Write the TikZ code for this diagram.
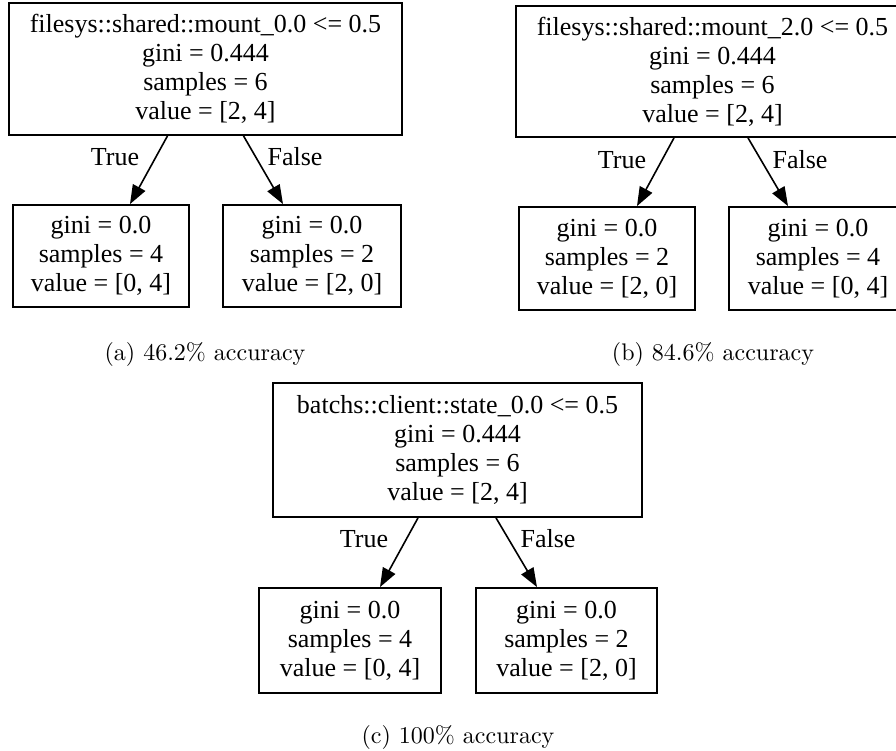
\documentclass[tikz,border=0pt]{standalone}
\usepackage{fontspec}
\newfontfamily\gv{Liberation Serif}
\newfontfamily\capf[Extension=.otf]{lmroman10-regular}
\usetikzlibrary{arrows.meta,calc}
\begin{document}
\begin{tikzpicture}[x=1pt,y=-1pt,
  box/.style={draw, line width=1.8pt, inner sep=0pt, align=center,
    font=\gv\fontsize{26}{29}\selectfont},
  lbl/.style={font=\gv\fontsize{26}{29}\selectfont, inner sep=0pt},
  captext/.style={font=\capf\fontsize{24}{29}\selectfont, anchor=base, inner sep=0pt},
  conn/.style={line width=1.6pt, -{Triangle[length=19pt,width=14pt]}}]
\clip (0,0) rectangle (896,751);
\fill[white] (0,0) rectangle (896,751);
% ---------- (a)
\node[box, minimum width=393pt, minimum height=132pt] (ra) at (205.5,69)
  {filesys::shared::mount\_0.0 <= 0.5\\gini = 0.444\\samples = 6\\value = [2, 4]};
\node[box, minimum width=176pt, minimum height=102pt] (la) at (101,256)
  {gini = 0.0\\samples = 4\\value = [0, 4]};
\node[box, minimum width=178pt, minimum height=102pt] (fa) at (312,256)
  {gini = 0.0\\samples = 2\\value = [2, 0]};
\draw[conn] ($(ra.south)+(-38,0)$) -- ($(la.north)+(29,0)$);
\draw[conn] ($(ra.south)+(38,0)$) -- ($(fa.north)+(-29,0)$);
\node[lbl] (ta) at (115,157) {True};
\node[lbl] (xa) at (295,157) {False};
\node[captext] (ca) at (205,360) {(a) 46.2\% accuracy};
% ---------- (b)
\node[box, minimum width=393pt, minimum height=131pt] (rb) at (712.5,71.5)
  {filesys::shared::mount\_2.0 <= 0.5\\gini = 0.444\\samples = 6\\value = [2, 4]};
\node[box, minimum width=176pt, minimum height=103pt] (lb) at (607,258.5)
  {gini = 0.0\\samples = 2\\value = [2, 0]};
\node[box, minimum width=178pt, minimum height=103pt] (fb) at (818,258.5)
  {gini = 0.0\\samples = 4\\value = [0, 4]};
\draw[conn] ($(rb.south)+(-38.5,0)$) -- ($(lb.north)+(30,0)$);
\draw[conn] ($(rb.south)+(35.5,0)$) -- ($(fb.north)+(-30,0)$);
\node[lbl] (tb) at (622,160) {True};
\node[lbl] (xb) at (800,160) {False};
\node[captext] (cb) at (713,360) {(b) 84.6\% accuracy};
% ---------- (c)
\node[box, minimum width=369pt, minimum height=134pt] (rc) at (457.5,450)
  {batchs::client::state\_0.0 <= 0.5\\gini = 0.444\\samples = 6\\value = [2, 4]};
\node[box, minimum width=182pt, minimum height=105pt] (lc) at (350,640.5)
  {gini = 0.0\\samples = 4\\value = [0, 4]};
\node[box, minimum width=181pt, minimum height=105pt] (fc) at (566.5,640.5)
  {gini = 0.0\\samples = 2\\value = [2, 0]};
\draw[conn] ($(rc.south)+(-39.5,0)$) -- ($(lc.north)+(30,0)$);
\draw[conn] ($(rc.south)+(38.5,0)$) -- ($(fc.north)+(-29.5,0)$);
\node[lbl] (tc) at (364,539) {True};
\node[lbl] (xc) at (548,539) {False};
\node[captext] (cc) at (458,743) {(c) 100\% accuracy};
\end{tikzpicture}
\end{document}
